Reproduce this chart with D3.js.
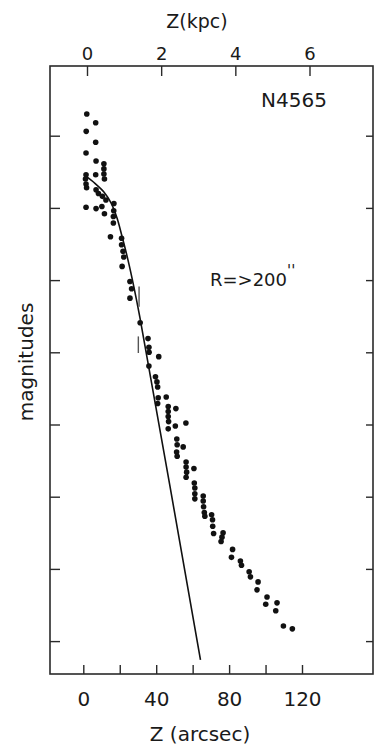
<!DOCTYPE html>
<html><head><meta charset="utf-8">
<script src="https://cdn.jsdelivr.net/npm/d3@7"></script>
<style>
html,body{margin:0;padding:0;background:#fff;}
svg{display:block;}
text{font-family:"DejaVu Sans",sans-serif;fill:#1a1a1a;}
</style></head><body>
<svg id="c" width="375" height="746"></svg>
<script>
// Data points: Z (arcsec), surface brightness (magnitudes)
const zArcsec = [1.9,6.8,1.6,6.8,1.5,7.0,11.3,11.3,11.3,11.6,1.5,1.2,1.5,1.8,6.8,7.0,8.3,10.5,12.4,1.5,7.0,10.2,11.6,16.8,16.7,16.5,16.5,14.9,21.0,21.0,21.8,22.2,21.3,25.6,26.5,25.6,31.2,35.5,36.0,36.1,41.4,36.0,39.6,40.4,40.8,45.5,41.1,40.8,46.6,50.8,46.6,46.6,46.8,46.6,50.5,56.3,51.3,51.5,54.8,51.2,51.5,56.4,56.4,60.7,56.7,56.4,60.9,61.2,61.2,61.2,65.8,65.8,66.0,66.4,66.7,70.4,70.9,71.0,71.5,76.7,76.1,75.6,81.9,81.3,86.2,86.8,91.0,91.7,95.9,95.3,100.8,100.1,106.3,105.6,109.8,114.7];
const mag = [20.70,20.82,20.94,21.09,21.24,21.35,21.39,21.46,21.53,21.60,21.54,21.60,21.67,21.72,21.54,21.75,21.80,21.84,21.89,21.99,22.01,21.98,22.08,21.94,22.04,22.12,22.21,22.40,22.42,22.51,22.60,22.68,22.81,23.02,23.12,23.25,23.59,23.81,23.93,24.00,24.06,24.19,24.34,24.41,24.48,24.62,24.63,24.71,24.75,24.78,24.82,24.89,24.96,25.06,25.02,24.98,25.20,25.28,25.31,25.38,25.44,25.52,25.59,25.61,25.66,25.73,25.81,25.88,25.96,26.03,25.99,26.06,26.14,26.22,26.27,26.25,26.32,26.41,26.51,26.50,26.56,26.62,26.73,26.84,26.89,26.95,27.04,27.11,27.18,27.29,27.39,27.49,27.47,27.58,27.79,27.83];
// model curve
const modelZ = [0.9,6.4,11.3,15.2,18.5,21.2,24.5,27.8,31.0,64.3];
const modelMag = [21.55,21.66,21.78,21.93,22.14,22.39,22.72,23.10,23.51,28.26];
// small vertical marks
const markZ = [30.6,30.2];
const markTop = [23.09,23.78];
const markBot = [23.37,24.01];
// ticks
const arcsecTicks = [0,20,40,60,80,100,120];
const arcsecLabels = [0,40,80,120];
const kpcTicks = [0,2,4,6];
const magTicks = [21,22,23,24,25,26,27,28];

const svg = d3.select("#c");
const L=50, R=373, T=66, B=674;
const x = d3.scaleLinear().domain([0,120]).range([83.3,302]);
const xk = d3.scaleLinear().domain([0,6]).range([87,309.5]);
const y = d3.scaleLinear().domain([21,28]).range([135.7,641.1]);

const axisColor="#2a2a2a";
// frame
svg.append("rect").attr("x",L).attr("y",T).attr("width",R-L).attr("height",B-T)
  .attr("fill","none").attr("stroke",axisColor).attr("stroke-width",1.6);

function styleAxis(g){
  g.select(".domain").remove();
  g.selectAll(".tick line").attr("stroke",axisColor).attr("stroke-width",1.4);
  g.selectAll(".tick text").attr("fill","#1a1a1a").attr("font-family","DejaVu Sans, sans-serif");
}
// bottom
const gb = svg.append("g").attr("transform",`translate(0,${B})`)
  .call(d3.axisBottom(x).tickValues(arcsecTicks).tickSizeInner(-9).tickSizeOuter(0).tickPadding(18)
    .tickFormat(d=>arcsecLabels.includes(d)?String(d):""));
styleAxis(gb); gb.selectAll(".tick text").attr("font-size",20);
// top
const gt = svg.append("g").attr("transform",`translate(0,${T})`)
  .call(d3.axisTop(xk).tickValues(kpcTicks).tickSizeInner(-10).tickSizeOuter(0).tickPadding(6)
    .tickFormat(d3.format("d")));
styleAxis(gt); gt.selectAll(".tick text").attr("font-size",18);
// left
const gl = svg.append("g").attr("transform",`translate(${L},0)`)
  .call(d3.axisLeft(y).tickValues(magTicks).tickSizeInner(-10).tickSizeOuter(0).tickFormat(""));
styleAxis(gl);
// right
const gr = svg.append("g").attr("transform",`translate(${R},0)`)
  .call(d3.axisRight(y).tickValues(magTicks).tickSizeInner(-7).tickSizeOuter(0).tickFormat(""));
styleAxis(gr);

// titles
svg.append("text").attr("x",197).attr("y",28).attr("text-anchor","middle").attr("font-size",19).text("Z(kpc)");
svg.append("text").attr("x",200).attr("y",741).attr("text-anchor","middle").attr("font-size",20).text("Z (arcsec)");
svg.append("text").attr("transform","translate(33,362) rotate(-90)").attr("text-anchor","middle").attr("font-size",20).text("magnitudes");
svg.append("text").attr("x",294).attr("y",107).attr("text-anchor","middle").attr("font-size",20).text("N4565");
const rt = svg.append("text").attr("x",210).attr("y",286).attr("font-size",18);
rt.append("tspan").text("R=>200");
rt.append("tspan").attr("dy",-10).attr("font-size",15).text("''");

// model curve
const line = d3.line().x(d=>x(d[0])).y(d=>y(d[1])).curve(d3.curveCatmullRom);
svg.append("path").datum(modelZ.map((z,i)=>[z,modelMag[i]]))
  .attr("d",line).attr("fill","none").attr("stroke","#111").attr("stroke-width",1.6);

// marks
svg.selectAll("line.mark").data(markZ).enter().append("line").attr("class","mark")
  .attr("x1",d=>x(d)).attr("x2",d=>x(d))
  .attr("y1",(d,i)=>y(markTop[i])).attr("y2",(d,i)=>y(markBot[i]))
  .attr("stroke","#555").attr("stroke-width",1.4);

// points
svg.selectAll("circle.pt").data(zArcsec).enter().append("circle").attr("class","pt")
  .attr("cx",d=>x(d)).attr("cy",(d,i)=>y(mag[i])).attr("r",2.8).attr("fill","#111");
</script>
</body></html>
